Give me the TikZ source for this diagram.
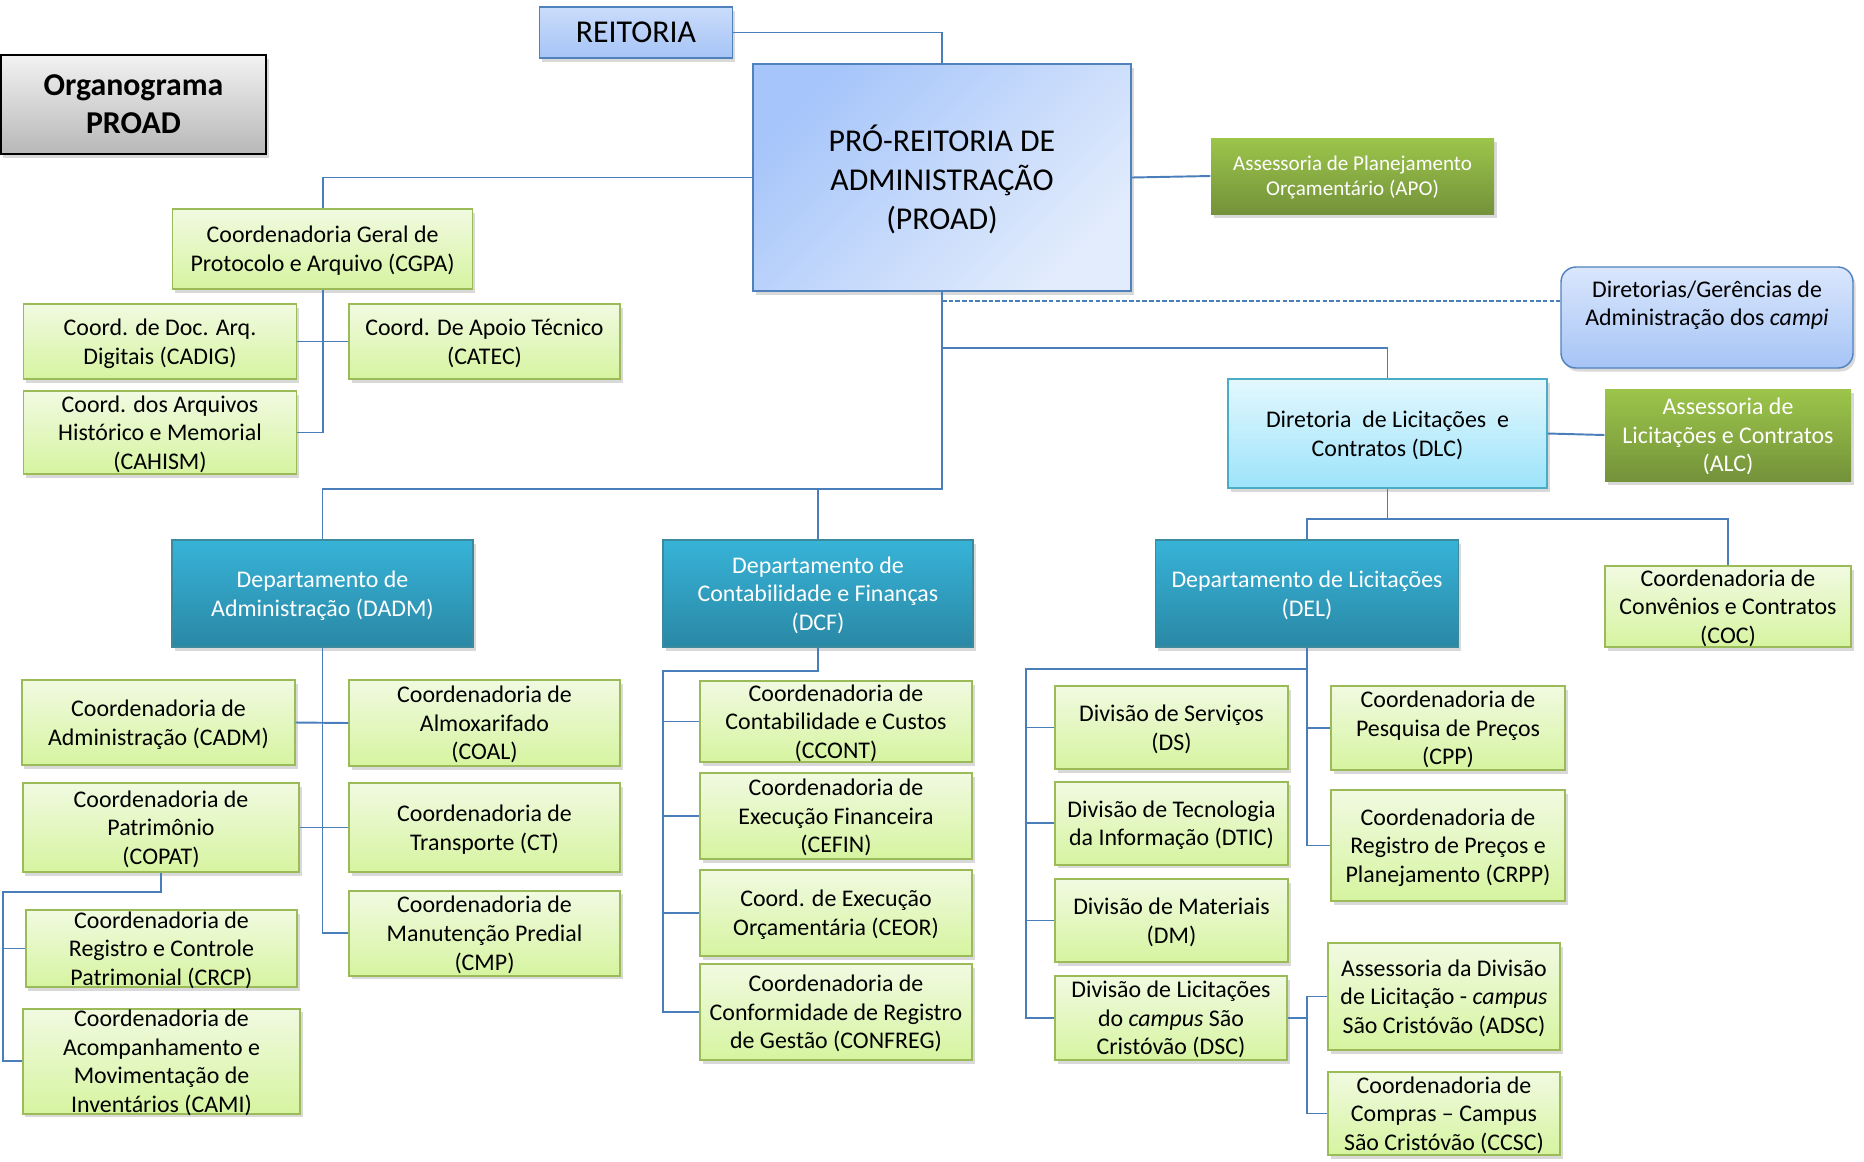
\documentclass[tikz,border=0pt]{standalone}
\usepackage{fontspec}
\setmainfont{Carlito}
\usepackage{tikz}
\usetikzlibrary{shadows}
\definecolor{lnblue}{HTML}{4A7EBB}
\definecolor{bborder}{HTML}{4F81BD}
\definecolor{gborder}{HTML}{9BBB59}
\definecolor{gtop}{HTML}{F1FAE1}
\definecolor{gbot}{HTML}{D6F4A0}
\definecolor{ttop}{HTML}{37B3D8}
\definecolor{tbot}{HTML}{2A88A5}
\definecolor{dgtop}{HTML}{9CC54A}
\definecolor{dgbot}{HTML}{74923A}
\definecolor{btop}{HTML}{CADCFB}
\definecolor{bbot}{HTML}{A6C4F6}
\definecolor{ptop}{HTML}{A6C5FA}
\definecolor{pbot}{HTML}{E2ECFC}
\definecolor{ctop}{HTML}{E4F8FE}
\definecolor{cbot}{HTML}{9CE3FA}
\definecolor{cborder}{HTML}{4BACC6}
\tikzset{sz/.style 2 args = {minimum width=#1*0.02cm, minimum height=#2*0.02cm}}
\tikzset{base/.style = {inner sep=0, align=center, line width=0.8pt, text depth=0pt,
                        font=\fontsize{13.6}{16.3}\selectfont,
                        drop shadow={opacity=0.3, shadow xshift=0.05cm, shadow yshift=-0.07cm}}}
\tikzset{leaf/.style = {base, draw=gborder, top color=gtop, bottom color=gbot}}
\tikzset{dept/.style = {base, draw=cborder!80!black, top color=ttop, bottom color=tbot, text=white}}
\tikzset{assess/.style = {base, draw=none, top color=dgtop, bottom color=dgbot, text=white}}
\tikzset{upper/.style = {base, draw=bborder, top color=btop, bottom color=bbot}}
\tikzset{big/.style = {font=\fontsize{18.1}{22.2}\selectfont}}
\tikzset{conn/.style = {draw=lnblue, line width=1.1pt}}
\tikzset{dsh/.style = {conn, dash pattern=on 2.6pt off 1.2pt}}

\begin{document}
\begin{tikzpicture}[x=0.02cm, y=-0.02cm]
  \useasboundingbox (0,0) rectangle (1864,1161);

  \node [base, draw=black, line width=1.6pt, top color=black!5, bottom color=black!28,
         font=\bfseries\fontsize{18.1}{21.6}\selectfont, sz={265}{99}] (orga) at (133.5, 104.5) {Organograma\\PROAD};
  \node [upper, big, sz={193}{51}] (reit) at (636, 32.5) {REITORIA};
  \node [upper, big, top color=ptop, bottom color=pbot, shading angle=45,
         sz={378}{227}] (proad) at (942, 177.5) {PRÓ-REITORIA DE\\ADMINISTRAÇÃO\\(PROAD)};
  \node [assess, font=\fontsize{12}{14.2}\selectfont, sz={283}{76}] (apo) at (1352.5, 176)
        {Assessoria de Planejamento\\Orçamentário (APO)};
  \node [upper, top color=btop!70!white, rounded corners=0.3cm, sz={292}{101}] (dir) at (1707, 317.5)
        {Diretorias/Gerências de\\Administração dos \textit{campi}\\~};

  % protocolo e arquivo
  \node [leaf, sz={300}{80}] (cgpa) at (322.6, 249) {Coordenadoria Geral de\\Protocolo e Arquivo (CGPA)};
  \node [leaf, sz={273}{75}] (cadig) at (160, 341.5) {Coord. de Doc. Arq.\\Digitais (CADIG)};
  \node [leaf, sz={271}{75}] (catec) at (484.5, 341.5) {Coord. De Apoio Técnico\\(CATEC)};
  \node [leaf, sz={273}{83}] (cahism) at (160, 432.5) {Coord. dos Arquivos\\Histórico e Memorial\\(CAHISM)};

  % licitacoes e contratos
  \node [upper, draw=cborder, top color=ctop, bottom color=cbot, sz={319}{109}] (dlc) at (1387.5, 433.5)
        {Diretoria\ \ de Licitações\ \ e\\Contratos (DLC)};
  \node [assess, sz={246}{92}] (alc) at (1728, 435) {Assessoria de\\Licitações e Contratos\\(ALC)};

  \node [dept, sz={301}{107}] (dadm) at (322.5, 593.5) {Departamento de\\Administração (DADM)};
  \node [dept, sz={310}{107}] (dcf) at (818, 593.5) {Departamento de\\Contabilidade e Finanças\\(DCF)};
  \node [dept, sz={303}{107}] (del) at (1307, 593.5) {Departamento de Licitações\\(DEL)};
  \node [leaf, sz={246}{81}] (coc) at (1728, 606.5) {Coordenadoria de\\Convênios e Contratos\\(COC)};

  % administracao
  \node [leaf, sz={273}{85}] (cadm) at (158.5, 722.5) {Coordenadoria de\\Administração (CADM)};
  \node [leaf, sz={271}{86}] (coal) at (484.5, 723) {Coordenadoria de\\Almoxarifado\\(COAL)};
  \node [leaf, sz={276}{89}] (copat) at (161, 827.5) {Coordenadoria de\\Patrimônio\\(COPAT)};
  \node [leaf, sz={271}{89}] (ct) at (484.5, 827.5) {Coordenadoria de\\Transporte (CT)};
  \node [leaf, sz={271}{85}] (cmp) at (484.5, 933.3) {Coordenadoria de\\Manutenção Predial\\(CMP)};
  \node [leaf, sz={271}{77}] (crcp) at (161.5, 948.5) {Coordenadoria de\\Registro e Controle\\Patrimonial (CRCP)};
  \node [leaf, sz={277}{105}] (cami) at (161.5, 1061.3)
        {Coordenadoria de\\Acompanhamento e\\Movimentação de\\Inventários (CAMI)};

  % contabilidade e financas
  \node [leaf, sz={272}{81}] (ccont) at (836, 721.5) {Coordenadoria de\\Contabilidade e Custos\\(CCONT)};
  \node [leaf, sz={272}{86}] (cefin) at (836, 816) {Coordenadoria de\\Execução Financeira\\(CEFIN)};
  \node [leaf, sz={272}{86}] (ceor) at (836, 913) {Coord. de Execução\\Orçamentária (CEOR)};
  \node [leaf, sz={272}{96}] (confreg) at (836, 1012)
        {Coordenadoria de\\Conformidade de Registro\\de Gestão (CONFREG)};

  % licitacoes
  \node [leaf, sz={233}{83}] (ds) at (1171.5, 727.5) {Divisão de Serviços\\(DS)};
  \node [leaf, sz={233}{83}] (dtic) at (1171.5, 823.3) {Divisão de Tecnologia\\da Informação (DTIC)};
  \node [leaf, sz={233}{83}] (dm) at (1171.5, 920.5) {Divisão de Materiais\\(DM)};
  \node [leaf, sz={232}{84}] (dsc) at (1171, 1018) {Divisão de Licitações\\do \textit{campus} São\\Cristóvão (DSC)};
  \node [leaf, sz={234}{84}] (cpp) at (1448, 728) {Coordenadoria de\\Pesquisa de Preços\\(CPP)};
  \node [leaf, sz={234}{111}] (crpp) at (1448, 845.5) {Coordenadoria de\\Registro de Preços e\\Planejamento (CRPP)};
  \node [leaf, sz={232}{107}] (adsc) at (1444, 996.5)
        {Assessoria da Divisão\\de Licitação - \textit{campus}\\São Cristóvão (ADSC)};
  \node [leaf, sz={232}{83}] (ccsc) at (1444, 1113.5) {Coordenadoria de\\Compras – Campus\\São Cristóvão (CCSC)};

  \coordinate (dk) at (942, 301);
  \coordinate (kr) at (942, 348);
  \coordinate (kl) at (942, 489);
  \draw [conn] (reit.east) -| (proad.north);
  \draw [conn] (proad.west) -| (cgpa.north);
  \draw [conn] (proad.east) -- (apo.west);
  \draw [dsh] (dk) -- (dk -| dir.west);
  \draw [conn] (proad.south) -- (kl) -| (dadm.north);
  \draw [conn] (kl) -| (dcf.north);
  \draw [conn] (kr) -| (dlc.north);

  \draw [conn] (cgpa.south) |- (cahism.east);
  \draw [conn] (cadig.east) -- (catec.west);

  \draw [conn] (dadm.south) |- (cmp.west);
  \draw [conn] (cadm.east) -- (coal.west);
  \draw [conn] (copat.east) -- (ct.west);
  \coordinate (pk) at (3, 892);
  \draw [conn] (copat.south) |- (pk) |- (cami.west);
  \draw [conn] (pk) |- (crcp.west);

  \coordinate (fk) at (663, 671);
  \draw [conn] (dcf.south) |- (fk) |- (confreg.west);
  \foreach \n in {ccont, cefin, ceor}
    \draw [conn] (fk) |- (\n.west);

  \draw [conn] (dlc.east) -- (alc.west);
  \coordinate (ck) at (1387.5, 519);
  \draw [conn] (dlc.south) -- (ck) -| (del.north);
  \draw [conn] (ck) -| (coc.north);

  \coordinate (lk) at (1026, 669);
  \draw [conn] (del.south) |- (lk) |- (dsc.west);
  \foreach \n in {ds, dtic, dm}
    \draw [conn] (lk) |- (\n.west);
  \draw [conn] (del.south) |- (crpp.west);
  \draw [conn] (del.south) |- (cpp.west);
  \coordinate (sk) at (1307, 1018);
  \draw [conn] (dsc.east) -- (sk);
  \draw [conn] (sk) |- (adsc.west);
  \draw [conn] (sk) |- (ccsc.west);
\end{tikzpicture}
\end{document}
